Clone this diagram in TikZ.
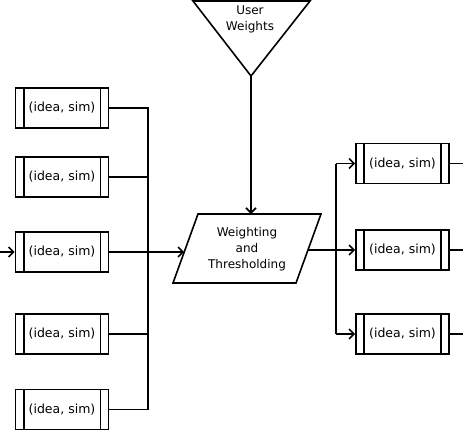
\documentclass[tikz,border=0pt]{standalone}
\usepackage{fontspec}
\setmainfont{DejaVu Sans}
\usetikzlibrary{arrows.meta}
\begin{document}
\begin{tikzpicture}[x=1pt,y=-1pt, line width=1.6pt,
 arr/.style={-{Straight Barb[length=5pt,width=10pt]}},
 ibox/.style={draw, minimum width=93pt, minimum height=40pt, inner sep=0pt, font=\fontsize{12.5}{14}\selectfont},
 lbl/.style={align=center, font=\fontsize{12}{16}\selectfont}]
\useasboundingbox (0,0) rectangle (463,432);
% left boxes
\foreach \n/\y in {b1/108,b2/177,b3/252,b4/334,b5/409.5}{
  \node[ibox] (\n) at (62,\y) {(idea, sim)};
  \draw ([xshift=9pt]\n.north west) -- ([xshift=9pt]\n.south west);
  \draw ([xshift=-9pt]\n.north east) -- ([xshift=-9pt]\n.south east);
}
% right boxes
\foreach \n/\y in {r1/163.5,r2/250,r3/334}{
  \node[ibox] (\n) at (402.5,\y) {(idea, sim)};
  \draw ([xshift=9pt]\n.north west) -- ([xshift=9pt]\n.south west);
  \draw ([xshift=-9pt]\n.north east) -- ([xshift=-9pt]\n.south east);
}
% user weights triangle
\coordinate (t1) at (193,1);
\coordinate (t2) at (310,1);
\coordinate (tip) at (251,76);
\draw (t1) -- (t2) -- (tip) -- cycle;
\node[lbl] (uw) at (250,19.5) {User\\Weights};
% parallelogram
\coordinate (p1) at (198,214);
\coordinate (p2) at (321,214);
\coordinate (p3) at (296,283);
\coordinate (p4) at (173,283);
\draw (p1) -- (p2) -- (p3) -- (p4) -- cycle;
\node[lbl] (wt) at (247,249) {Weighting\\and\\Thresholding};
\coordinate (pl) at (184.2,252);
\coordinate (pr) at (308,250);
\coordinate (ptop) at (251,214);
% input arrow
\coordinate (in) at (0,252);
\draw[arr] (in) -- (b3.west);
% left bus
\coordinate (lbt) at (148,108);
\coordinate (lbb) at (148,409.5);
\draw (b1.east) -- (lbt) -- (lbb) -- (b5.east);
\draw (b2.east) -- (b2.east -| lbt);
\draw (b4.east) -- (b4.east -| lbt);
\draw[arr] (b3.east) -- (pl);
% weights arrow
\draw[arr] (tip) -- (ptop);
% right bus
\coordinate (rj) at (336,250);
\coordinate (rbt) at (336,163.5);
\coordinate (rbb) at (336,334);
\draw (pr) -- (rj);
\draw (rbt) -- (rbb);
\draw[arr] (rbt) -- (r1.west);
\draw[arr] (rj) -- (r2.west);
\draw[arr] (rbb) -- (r3.west);
% outputs
\foreach \n in {r1,r2,r3}{
  \coordinate (o\n) at (463,0 |- \n.east);
  \draw (\n.east) -- (o\n);
}
\end{tikzpicture}
\end{document}
